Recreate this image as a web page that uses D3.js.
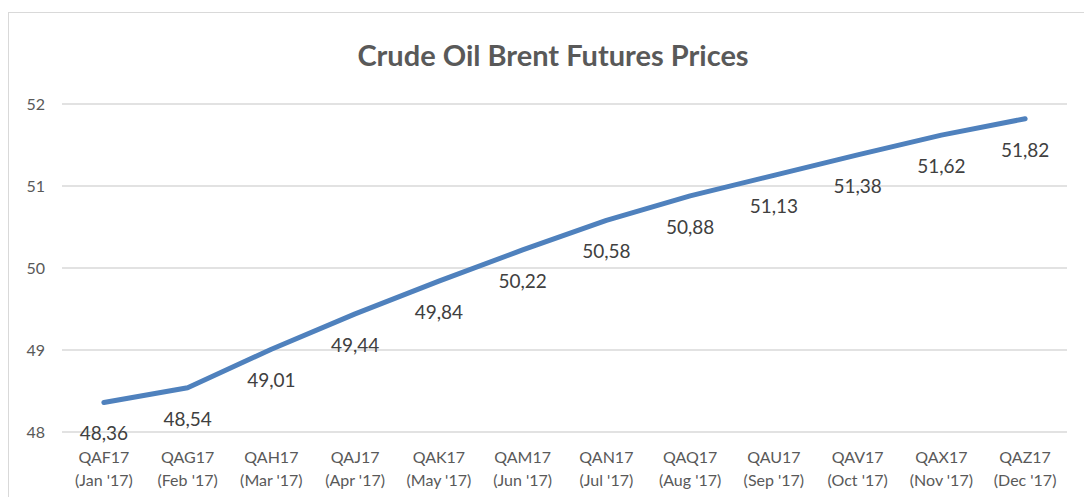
<!DOCTYPE html>
<html>
<head>
<meta charset="utf-8">
<script src="https://cdn.jsdelivr.net/npm/d3@7"></script>
<style>
  html, body { margin: 0; padding: 0; background: #fff; }
  svg { display: block; font-family: Lato, "Open Sans", sans-serif; }
</style>
</head>
<body>
<main></main>
<script>
const codes = ['QAF17', 'QAG17', 'QAH17', 'QAJ17', 'QAK17', 'QAM17', 'QAN17', 'QAQ17', 'QAU17', 'QAV17', 'QAX17', 'QAZ17'];
const months = ["(Jan '17)", "(Feb '17)", "(Mar '17)", "(Apr '17)", "(May '17)", "(Jun '17)", "(Jul '17)", "(Aug '17)", "(Sep '17)", "(Oct '17)", "(Nov '17)", "(Dec '17)"];
const prices = [48.36, 48.54, 49.01, 49.44, 49.84, 50.22, 50.58, 50.88, 51.13, 51.38, 51.62, 51.82];
const yTicks = [48, 49, 50, 51, 52];

const W = 1084, H = 497;
const plotL = 62, plotR = 1067, plotT = 104, plotB = 432;

const svg = d3.select('main')
    .append('svg')
    .attr('width', W)
    .attr('height', H);

// chart frame
svg.append('rect')
    .attr('x', 8.5).attr('y', 12.5)
    .attr('width', W + 10).attr('height', H + 10)
    .attr('fill', '#fff')
    .attr('stroke', '#d9d9d9');

svg.append('text')
    .attr('x', 553).attr('y', 66)
    .attr('text-anchor', 'middle')
    .attr('font-size', 29)
    .attr('font-weight', 'bold')
    .attr('fill', '#595959')
    .text('Crude Oil Brent Futures Prices');

const xScale = d3.scaleBand()
    .domain(codes)
    .range([plotL, plotR]);

const yScale = d3.scaleLinear()
    .domain([48, 52])
    .range([plotB, plotT]);

// gridlines
svg.append('g')
    .selectAll('line')
    .data(yTicks)
    .enter()
    .append('line')
    .attr('x1', plotL).attr('x2', plotR)
    .attr('y1', (d) => yScale(d)).attr('y2', (d) => yScale(d))
    .attr('stroke', '#d9d9d9')
    .attr('stroke-width', 1.3);

const yAxis = svg.append('g')
    .attr('transform', `translate(${plotL - 17}, 0)`)
    .call(d3.axisLeft(yScale).tickValues(yTicks).tickFormat(d3.format('d')).tickSize(0).tickPadding(0));
yAxis.select('.domain').remove();
yAxis.selectAll('text')
    .attr('font-size', 16)
    .attr('font-family', 'Lato, sans-serif')
    .attr('fill', '#595959');

// x labels (two lines)
const xLab = svg.append('g')
    .selectAll('text')
    .data(codes)
    .enter()
    .append('text')
    .attr('x', (d) => xScale(d) + xScale.bandwidth() / 2)
    .attr('text-anchor', 'middle')
    .attr('font-size', 16)
    .attr('fill', '#595959');
xLab.append('tspan')
    .attr('x', (d) => xScale(d) + xScale.bandwidth() / 2)
    .attr('y', 463)
    .text((d) => d);
xLab.append('tspan')
    .attr('x', (d) => xScale(d) + xScale.bandwidth() / 2)
    .attr('y', 486)
    .text((d, i) => months[i]);

const line = d3.line()
    .x((d, i) => xScale(codes[i]) + xScale.bandwidth() / 2)
    .y((d) => yScale(d));

svg.append('path')
    .datum(prices)
    .attr('d', line)
    .attr('fill', 'none')
    .attr('stroke', '#4f81bd')
    .attr('stroke-width', 5)
    .attr('stroke-linecap', 'round')
    .attr('stroke-linejoin', 'round');

const fmt = (v) => v.toFixed(2).replace('.', ',');

svg.append('g')
    .selectAll('text')
    .data(prices)
    .enter()
    .append('text')
    .attr('x', (d, i) => xScale(codes[i]) + xScale.bandwidth() / 2)
    .attr('y', (d) => yScale(d) + 38)
    .attr('text-anchor', 'middle')
    .attr('font-size', 19)
    .attr('fill', '#404040')
    .text(fmt);
</script>
</body>
</html>
